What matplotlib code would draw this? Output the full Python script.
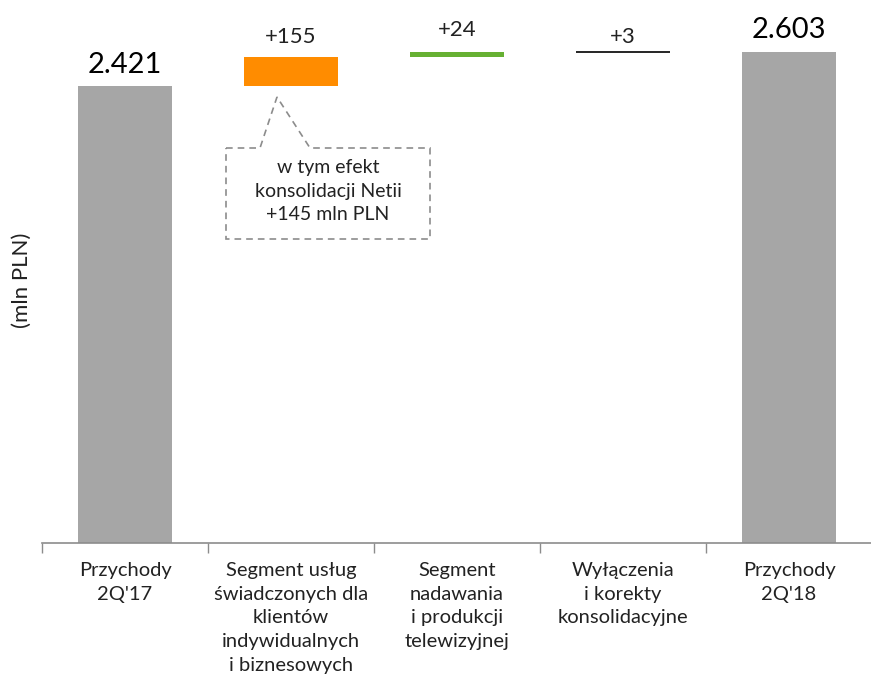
import numpy as np
import matplotlib.pyplot as plt
from matplotlib.patches import Polygon

# Data
categories = ['Przychody\n2Q\'17',
              'Segment usług\nświadczonych dla\nklientów\nindywidualnych\ni biznesowych',
              'Segment\nnadawania\ni produkcji\ntelewizyjnej',
              'Wyłączenia\ni korekty\nkonsolidacyjne',
              'Przychody\n2Q\'18']
start_value = 2421
changes = [155, 24, 3]
end_value = 2603
value_labels = ['2.421', '+155', '+24', '+3', '2.603']
note_text = 'w tym efekt\nkonsolidacji Netii\n+145 mln PLN'

plt.rcParams['font.family'] = ['Lato', 'DejaVu Sans']

fig = plt.figure(figsize=(8.71, 6.83), dpi=100)
ax = fig.add_axes([42 / 871, 1 - 543 / 683, 830 / 871, 543 / 683])

x = np.arange(len(categories))
width = 0.57

# bars
bottoms = [0]
heights = [start_value]
running = start_value
for c in changes:
    bottoms.append(running)
    heights.append(c)
    running += c
bottoms.append(0)
heights.append(end_value)

colors = ['#A6A6A6', '#FF8C00', '#66B032', '#000000', '#A6A6A6']
for i in range(len(x)):
    if i == 3:
        ax.hlines(bottoms[i] + heights[i], x[i] - width / 2, x[i] + width / 2,
                  color='black', lw=1.2)
    else:
        ax.bar(x[i], heights[i], width, bottom=bottoms[i], color=colors[i])

# labels above bars (gap in px)
label_gap = [8, 10, 12, 5, 9]
label_size = [21, 16, 16, 16, 21]
for i in range(len(x)):
    top = bottoms[i] + heights[i]
    ax.annotate(value_labels[i], (x[i], top), xytext=(0, label_gap[i] * 0.72),
                textcoords='offset points', ha='center', va='bottom',
                fontsize=label_size[i], color='black' if i in (0, 4) else '#222222')

ax.set_xlim(-0.5, 4.5)
ax.set_ylim(0, 2876)

# axis styling
for s in ['top', 'right', 'left']:
    ax.spines[s].set_visible(False)
ax.spines['bottom'].set_color('#8C8C8C')
ax.spines['bottom'].set_linewidth(1.2)
ax.set_yticks([])
ax.set_xticks(np.arange(-0.5, 5, 1))
ax.set_xticklabels([])
ax.tick_params(axis='x', length=7, color='#8C8C8C', width=1)
for i, lab in enumerate(categories):
    ax.text(x[i], -100, lab, ha='center', va='top', fontsize=14.5,
            color='#222222', linespacing=1.48)

fig.text(22 / 871, 1 - 280 / 683, '(mln PLN)', rotation=90, ha='center',
         va='center', fontsize=16, color='#222222')

# callout with dashed border
box_x0, box_x1 = 226 / 871, 430 / 871
box_y0, box_y1 = 1 - 239 / 683, 1 - 148 / 683
pts = [(box_x0, box_y1), (260 / 871, box_y1), (277 / 871, 1 - 97 / 683),
       (310 / 871, box_y1), (box_x1, box_y1), (box_x1, box_y0),
       (box_x0, box_y0)]
callout = Polygon(pts, closed=True, transform=fig.transFigure, fill=False,
                  edgecolor='#8C8C8C', linestyle=(0, (4, 3)), lw=1.2)
fig.add_artist(callout)
fig.text(328 / 871, 1 - 191 / 683, note_text, ha='center', va='center',
         fontsize=14, color='#222222', linespacing=1.48)

fig.savefig('out.png', dpi=100)
